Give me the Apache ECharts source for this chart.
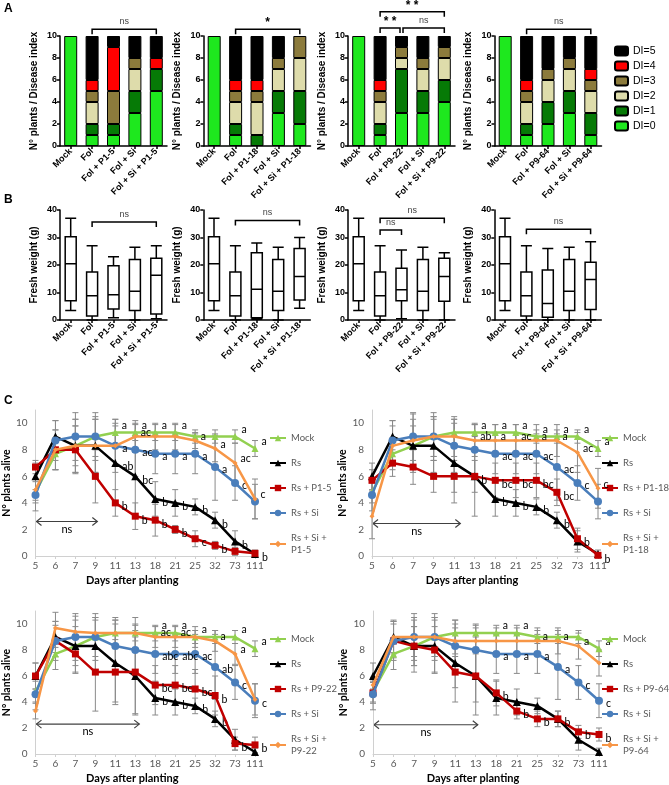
<!DOCTYPE html>
<html><head><meta charset="utf-8">
<script src="https://cdn.jsdelivr.net/npm/echarts@6/dist/echarts.min.js"></script>
<style>html,body{margin:0;padding:0;background:#fff}#c{width:669px;height:785px}</style>
</head><body><div id="c"></div>
<script>
// ---------- Panel A: disease index counts (rows = treatments, cols = DI=0..DI=5)
const diNames = ['DI=0','DI=1','DI=2','DI=3','DI=4','DI=5'];
const diColors = ['#1ee81e','#067a06','#dedcab','#8c7b3c','#ff0000','#000000'];
const a1Cats = ['Mock','Fol','Fol + P1-5','Fol + Si','Fol + Si + P1-5'];
const a2Cats = ['Mock','Fol','Fol + P1-18','Fol + Si','Fol + Si + P1-18'];
const a3Cats = ['Mock','Fol','Fol + P9-22','Fol + Si','Fol + Si + P9-22'];
const a4Cats = ['Mock','Fol','Fol + P9-64','Fol + Si','Fol + Si + P9-64'];
const a1Counts = [[10,0,0,0,0,0],[1,1,2,1,1,4],[1,1,0,3,4,1],[3,2,2,1,0,2],[5,2,0,0,1,2]];
const a2Counts = [[10,0,0,0,0,0],[1,1,2,1,1,4],[0,1,3,1,1,4],[3,2,2,1,0,2],[2,3,3,2,0,0]];
const a3Counts = [[10,0,0,0,0,0],[1,1,2,1,1,4],[3,4,1,1,0,1],[3,2,2,1,0,2],[4,2,2,1,0,1]];
const a4Counts = [[10,0,0,0,0,0],[1,1,2,1,1,4],[2,2,2,1,0,3],[3,2,2,1,0,2],[1,2,2,1,1,3]];

// ---------- Panel B: fresh weight box plots [min, q1, median, q3, max]
const boxMock = [3.5, 7, 20.5, 30.3, 37];
const boxFol = [0, 1.5, 8.8, 17.5, 27];
const boxFolSi = [0, 3.5, 10.5, 22, 26.5];
const boxP15 = [0.8, 4, 9.2, 19.7, 23];
const boxSiP15 = [0.5, 2.2, 16.3, 22.5, 27];
const boxP118 = [0.3, 0.8, 11.2, 24.5, 28];
const boxSiP118 = [4.3, 7.3, 15.8, 26, 30];
const boxP922 = [0.5, 7, 11, 18.8, 25.5];
const boxSiP922 = [0, 6.8, 15.8, 22.5, 24.5];
const boxP964 = [0, 1, 6, 18.2, 26];
const boxSiP964 = [0, 3.8, 14.7, 21, 28.5];

// ---------- Panel C: plants alive over time
const days = ['5','6','7','9','11','13','18','21','25','32','73','111'];
const mockAlive = [4.8, 7.7, 8.3, 9.0, 9.3, 9.3, 9.3, 9.3, 9.0, 9.0, 9.0, 8.1];
const rsAlive   = [6.0, 9.0, 8.3, 8.3, 7.0, 6.0, 4.3, 4.0, 3.7, 2.7, 1.1, 0.15];
const rsSiAlive = [4.6, 8.7, 9.0, 9.0, 8.3, 8.0, 7.7, 7.7, 7.7, 6.7, 5.5, 4.1];
const rsP15     = [6.7, 8.0, 8.0, 6.0, 4.0, 3.0, 2.7, 2.0, 1.3, 0.8, 0.35, 0.2];
const rsSiP15   = [5.0, 8.0, 8.3, 8.3, 8.3, 9.0, 9.0, 9.0, 8.7, 8.1, 7.0, 4.3];
const rsP118    = [5.7, 7.0, 6.7, 6.0, 6.0, 6.0, 5.7, 5.7, 5.7, 4.8, 1.3, 0.05];
const rsSiP118  = [3.0, 8.3, 8.7, 9.0, 9.0, 8.7, 8.7, 8.7, 8.7, 8.7, 7.8, 5.1];
const rsP922    = [6.0, 8.7, 7.7, 6.3, 6.3, 6.3, 5.3, 5.3, 5.0, 4.5, 0.8, 0.7];
const rsSiP922  = [3.3, 9.7, 9.4, 9.3, 9.3, 9.3, 9.0, 9.0, 9.0, 8.7, 7.7, 4.2];
const rsP964    = [4.7, 8.7, 8.3, 8.0, 6.3, 6.0, 4.7, 3.3, 2.7, 2.7, 1.7, 1.5];
const rsSiP964  = [5.3, 9.0, 9.0, 9.0, 8.7, 8.7, 8.7, 8.7, 8.7, 8.7, 8.3, 7.0];
// error bar half-widths
const mockErr   = [0.8, 1.2, 1.5, 1.5, 1.0, 0.6, 0.6, 0.6, 0.5, 0.5, 0.5, 0.6];
const rsErr     = [1.0, 1.2, 2.0, 2.0, 3.0, 3.0, 1.3, 1.0, 0.6, 0.6, 0.8, 0.3];
const rsSiErr   = [1.2, 1.5, 1.8, 1.8, 2.0, 2.0, 1.5, 1.5, 1.5, 2.5, 1.3, 1.3];
const rsP15Err  = [0.5, 1.5, 1.8, 2.0, 1.0, 1.0, 1.2, 0.3, 0.6, 0.3, 0.3, 0.2];
const rsSiP15Err= [0.8, 1.5, 2.0, 2.0, 1.5, 1.2, 1.0, 1.0, 0.6, 1.0, 1.5, 1.5];
const rsP118Err = [0.8, 1.0, 1.3, 1.2, 1.2, 1.2, 1.3, 1.3, 1.3, 1.0, 0.8, 0.1];
const rsSiP118Err=[1.7, 1.5, 2.0, 1.5, 1.5, 1.2, 1.2, 1.2, 1.2, 1.2, 1.5, 1.5];
const rsP922Err = [1.0, 1.2, 1.5, 3.0, 2.5, 3.2, 1.5, 1.5, 1.5, 1.5, 0.5, 0.6];
const rsSiP922Err=[0.6, 1.5, 1.2, 1.2, 1.2, 1.2, 0.8, 0.8, 0.8, 0.8, 0.8, 1.2];
const rsP964Err = [0.8, 1.3, 1.5, 1.8, 1.2, 2.0, 1.0, 0.6, 0.6, 0.6, 0.5, 0.5];
const rsSiP964Err=[0.6, 1.3, 1.5, 1.5, 1.0, 1.0, 1.0, 1.0, 1.0, 1.0, 1.0, 1.0];
// significance letters
const c1MockLbl  = ['','','','','a','a','a','a','','','a','a'];
const c1RsLbl    = ['','','','','ab','bc','b','b','b','b','b','b'];
const c1ProLbl   = ['','','','','b','b','b','b','c','b','',''];
const c1SiLbl    = ['','','','','a','ac','a','a','a','a','c',''];
const c1SiProLbl = ['','','','','','ac','','','a','a','ac','c'];
const c2MockLbl  = ['','','','','','a','a','a','a','a','a','a'];
const c2RsLbl    = ['','','','','','','b','b','b','b','',''];
const c2ProLbl   = ['','','','','','b','bc','bc','bc','bc','b','b'];
const c2SiLbl    = ['','','','','','','ac','ac','ac','ac','c',''];
const c2SiProLbl = ['','','','','','ab','a','ac','a','a','ac','c'];
const c3MockLbl  = ['','','','','','','a','a','a','','a','a'];
const c3RsLbl    = ['','','','','','','b','b','b','b','',''];
const c3ProLbl   = ['','','','','','','bc','bc','bc','b','b','b'];
const c3SiLbl    = ['','','','','','','abc','abc','ac','ab','c','c'];
const c3SiProLbl = ['','','','','','','ac','ac','','a','a',''];
const c4MockLbl  = ['','','','','','','a','a','','','','a'];
const c4RsLbl    = ['','','','','','','','','','','',''];
const c4ProLbl   = ['','','','','','','b','b','b','b','b','b'];
const c4SiLbl    = ['','','','','','','a','a','a','a','c','c'];
const c4SiProLbl = ['','','','','','','','','a','a','a',''];

// ---------- annotations
const sigA = [
  {g:0, x1:1, x2:4, y:10.62, t:'ns'}, {g:1, x1:1, x2:4, y:10.62, t:'*'},
  {g:2, x1:1, x2:4, y:12.2, t:'**'}, {g:2, x1:1, x2:1.93, y:10.72, t:'**'},
  {g:2, x1:2.07, x2:4, y:10.72, t:'ns'}, {g:3, x1:1, x2:4, y:10.62, t:'ns'}];
const sigB = [
  {g:4, x1:1, x2:4, y:35.6, t:'ns'}, {g:5, x1:1, x2:4, y:36.2, t:'ns'},
  {g:6, x1:1, x2:4, y:37.0, t:'ns'}, {g:6, x1:1, x2:2, y:32.7, t:'ns'},
  {g:7, x1:1, x2:4, y:33.0, t:'ns'}];
const nsArrows = [
  {g:8, x1:0.05, x2:3.1, y:2.6}, {g:9, x1:0.05, x2:4.3, y:2.45},
  {g:10, x1:0.05, x2:5.2, y:2.3}, {g:11, x1:0.05, x2:5.1, y:2.25}];

// ---------- build
const FA = '"Liberation Sans", Arial, sans-serif';
const FC = 'Lato, "Liberation Sans", sans-serif';
const aCats = [a1Cats, a2Cats, a3Cats, a4Cats];
const aCounts = [a1Counts, a2Counts, a3Counts, a4Counts];
const bBoxes = [
  [boxMock, boxFol, boxP15, boxFolSi, boxSiP15],
  [boxMock, boxFol, boxP118, boxFolSi, boxSiP118],
  [boxMock, boxFol, boxP922, boxFolSi, boxSiP922],
  [boxMock, boxFol, boxP964, boxFolSi, boxSiP964]];
const cPro = ['P1-5','P1-18','P9-22','P9-64'];
const cProVals = [rsP15, rsP118, rsP922, rsP964];
const cSiProVals = [rsSiP15, rsSiP118, rsSiP922, rsSiP964];
const cProErr = [rsP15Err, rsP118Err, rsP922Err, rsP964Err];
const cSiProErr = [rsSiP15Err, rsSiP118Err, rsSiP922Err, rsSiP964Err];
const cLbls = [
  [c1MockLbl, c1RsLbl, c1ProLbl, c1SiLbl, c1SiProLbl],
  [c2MockLbl, c2RsLbl, c2ProLbl, c2SiLbl, c2SiProLbl],
  [c3MockLbl, c3RsLbl, c3ProLbl, c3SiLbl, c3SiProLbl],
  [c4MockLbl, c4RsLbl, c4ProLbl, c4SiLbl, c4SiProLbl]];

const aLeft = [60, 203.5, 348, 494.5];
const bLeft = [60, 203.3, 348, 494.3];
const cRect = [[29,410,226,146],[372,410,226,146],[29,611,226,147],[373,611,226,147]];
const cLegPos = [[269,432],[601,432],[269,633],[601,633]];

const grid = [], xAxis = [], yAxis = [], series = [], legend = [];
const blackAxis = {lineStyle:{color:'#000', width:1.5}};
const blackTick = {show:true, length:3, lineStyle:{color:'#000', width:1.5}};
const labA = {fontSize:9, fontWeight:'bold', color:'#000', fontFamily:FA};

for (let p = 0; p < 4; p++) {
  grid.push({left:aLeft[p], top:36, width:107, height:110});
  xAxis.push({gridIndex:p, type:'category', data:aCats[p], axisLine:blackAxis,
    axisTick:Object.assign({alignWithLabel:true}, blackTick),
    axisLabel:Object.assign({interval:0, rotate:45, margin:4}, labA)});
  yAxis.push({gridIndex:p, type:'value', min:0, max:10, interval:2,
    name:'N° plants / Disease index', nameLocation:'middle', nameGap:21,
    nameTextStyle:{fontSize:10, fontWeight:'bold', color:'#000', fontFamily:FA},
    axisLine:Object.assign({show:true}, blackAxis), axisTick:blackTick,
    axisLabel:Object.assign({margin:3}, labA), splitLine:{show:false}});
  for (let k = 0; k < 6; k++) {
    series.push({type:'bar', name:diNames[k], xAxisIndex:p, yAxisIndex:p, stack:'a'+p,
      barWidth:13, data:aCounts[p].map(r => r[k] === 0 ? '-' : r[k]),
      itemStyle:{color:diColors[k], borderColor:'#000', borderWidth:1}, silent:true});
  }
}
for (let p = 0; p < 4; p++) {
  const gi = 4 + p;
  grid.push({left:bLeft[p], top:210, width:107, height:110});
  xAxis.push({gridIndex:gi, type:'category', data:aCats[p], axisLine:blackAxis,
    axisTick:Object.assign({alignWithLabel:true}, blackTick),
    axisLabel:Object.assign({interval:0, rotate:45, margin:4}, labA)});
  yAxis.push({gridIndex:gi, type:'value', min:0, max:40, interval:10,
    name:'Fresh weight (g)', nameLocation:'middle', nameGap:21,
    nameTextStyle:{fontSize:10, fontWeight:'bold', color:'#000', fontFamily:FA},
    axisLine:Object.assign({show:true}, blackAxis), axisTick:blackTick,
    axisLabel:Object.assign({margin:3}, labA), splitLine:{show:false}});
  series.push({type:'boxplot', xAxisIndex:gi, yAxisIndex:gi, boxWidth:[11,11],
    data:bBoxes[p], silent:true,
    itemStyle:{color:'#fff', borderColor:'#000', borderWidth:1.5}});
}
const cCol = {mock:'#92d050', rs:'#000000', pro:'#c00000', si:'#4a7ebb', sipro:'#f79646'};
for (let p = 0; p < 4; p++) {
  const gi = 8 + p, r = cRect[p];
  grid.push({left:r[0], top:r[1], width:r[2], height:r[3]});
  xAxis.push({gridIndex:gi, type:'category', boundaryGap:false, data:days,
    name:'Days after planting', nameLocation:'middle', nameGap:19,
    nameTextStyle:{fontSize:11, fontWeight:'bold', color:'#000', fontFamily:FC, padding:[0,26,0,0]},
    axisLine:{lineStyle:{color:'#d0d0d0', width:1}},
    axisTick:{show:true, length:3, lineStyle:{color:'#d0d0d0'}},
    axisLabel:{interval:0, fontSize:10, color:'#595959', fontFamily:FC, margin:5}});
  yAxis.push({gridIndex:gi, type:'value', min:0, max:11, interval:2,
    name:'N° plants alive', nameLocation:'middle', nameGap:16,
    nameTextStyle:{fontSize:10.5, fontWeight:'bold', color:'#000', fontFamily:FC},
    axisLine:{show:true, lineStyle:{color:'#d0d0d0', width:1}}, axisTick:{show:false},
    axisLabel:{showMaxLabel:false, formatter:v => (v % 2 === 0 ? String(v) : ''),
      fontSize:10, color:'#595959', fontFamily:FC, margin:8},
    splitLine:{show:false}});
  const defs = [
    {name:'Mock', vals:mockAlive, err:mockErr, col:cCol.mock, sym:'triangle', size:7, off:[0,-7]},
    {name:'Rs', vals:rsAlive, err:rsErr, col:cCol.rs, sym:'triangle', size:8, off:[0,4]},
    {name:'Rs + ' + cPro[p], vals:cProVals[p], err:cProErr[p], col:cCol.pro, sym:'rect', size:7, off:[0,4]},
    {name:'Rs + Si', vals:rsSiAlive, err:rsSiErr, col:cCol.si, sym:'circle', size:8, off:[0,3]},
    {name:'Rs + Si + ' + cPro[p], vals:cSiProVals[p], err:cSiProErr[p], col:cCol.sipro, sym:'diamond', size:5, off:[0,-4]}];
  const errData = [];
  defs.forEach(d => d.vals.forEach((v, i) => {
    errData.push([i, Math.max(0, v - d.err[i]), Math.min(10.9, v + d.err[i])]);
  }));
  series.push({type:'custom', xAxisIndex:gi, yAxisIndex:gi, silent:true, z:1,
    encode:{x:0, y:[1,2]}, data:errData,
    renderItem:(params, api) => {
      const lo = api.coord([api.value(0), api.value(1)]);
      const hi = api.coord([api.value(0), api.value(2)]);
      const st = {stroke:'#8a8a8a', lineWidth:1};
      return {type:'group', children:[
        {type:'line', shape:{x1:lo[0], y1:lo[1], x2:hi[0], y2:hi[1]}, style:st},
        {type:'line', shape:{x1:lo[0]-3, y1:lo[1], x2:lo[0]+3, y2:lo[1]}, style:st},
        {type:'line', shape:{x1:hi[0]-3, y1:hi[1], x2:hi[0]+3, y2:hi[1]}, style:st}]};
    }});
  defs.forEach((d, j) => {
    const lbl = cLbls[p][j];
    series.push({type:'line', name:d.name, xAxisIndex:gi, yAxisIndex:gi, data:d.vals,
      symbol:d.sym, symbolSize:d.size, z:2 + j, silent:true,
      lineStyle:{color:d.col, width:2.5}, itemStyle:{color:d.col},
      label:{show:true, position:'right', distance:3, offset:d.off,
        formatter:q => lbl[q.dataIndex], fontSize:10.5, color:'#000', fontFamily:FC}});
  });
  legend.push({orient:'vertical', left:cLegPos[p][0], top:cLegPos[p][1], selectedMode:false,
    padding:0, itemWidth:16, itemHeight:8, itemGap:13, data:defs.map(d => d.name),
    formatter:n => n.replace('Rs + Si + ', 'Rs + Si +\n'),
    textStyle:{fontSize:9.5, color:'#595959', fontFamily:FC, lineHeight:12}});
}
legend.push({orient:'vertical', left:614, top:45, selectedMode:false, padding:0,
  itemWidth:13, itemHeight:9, itemGap:3, data:['DI=5','DI=4','DI=3','DI=2','DI=1','DI=0'],
  textStyle:{fontSize:10.5, color:'#000', fontFamily:FA, lineHeight:12}});

const chart = echarts.init(document.getElementById('c'));
chart.setOption({animation:false, backgroundColor:'#fff', grid, xAxis, yAxis, series, legend});

// ---------- annotation graphics (positions via the chart's own scales)
function pt(gi, xf, y) {
  const i0 = Math.floor(xf), f = xf - i0;
  const a = chart.convertToPixel({xAxisIndex:gi, yAxisIndex:gi}, [i0, y]);
  if (f === 0) return a;
  const b = chart.convertToPixel({xAxisIndex:gi, yAxisIndex:gi}, [i0 + 1, y]);
  return [a[0] + (b[0] - a[0]) * f, a[1]];
}
const gfx = [];
sigA.concat(sigB).forEach(s => {
  const a = pt(s.g, s.x1, s.y), b = pt(s.g, s.x2, s.y);
  gfx.push({type:'polyline', silent:true,
    shape:{points:[[a[0], a[1] + 5], a, b, [b[0], b[1] + 5]]},
    style:{stroke:'#000', lineWidth:1.5, fill:null}});
  const star = s.t.indexOf('*') >= 0;
  gfx.push({type:'text', silent:true, x:(a[0] + b[0]) / 2, y:a[1] - (star ? 0 : 3),
    style:{text:star ? s.t.split('').join(' ') : s.t, fontSize:star ? 12 : 9,
      fontWeight:star ? 'bold' : 'normal', fontFamily:FA, fill:star ? '#000' : '#444',
      align:'center', verticalAlign:'bottom'}});
});
nsArrows.forEach(s => {
  const a = pt(s.g, s.x1, s.y), b = pt(s.g, s.x2, s.y);
  const st = {stroke:'#404040', lineWidth:1.2, fill:null};
  gfx.push({type:'polyline', silent:true, shape:{points:[a, b]}, style:st});
  gfx.push({type:'polyline', silent:true, shape:{points:[[a[0]+5, a[1]-4], a, [a[0]+5, a[1]+4]]}, style:st});
  gfx.push({type:'polyline', silent:true, shape:{points:[[b[0]-5, b[1]-4], b, [b[0]-5, b[1]+4]]}, style:st});
  gfx.push({type:'text', silent:true, x:(a[0] + b[0]) / 2, y:a[1] + 2,
    style:{text:'ns', fontSize:11, fontFamily:FC, fill:'#000', align:'center', verticalAlign:'top'}});
});
[['A',4,3],['B',4,194],['C',4,395]].forEach(l => gfx.push({type:'text', silent:true, x:l[1], y:l[2],
  style:{text:l[0], fontSize:12, fontWeight:'bold', fontFamily:FA, fill:'#000'}}));
chart.setOption({graphic:gfx});
</script></body></html>
